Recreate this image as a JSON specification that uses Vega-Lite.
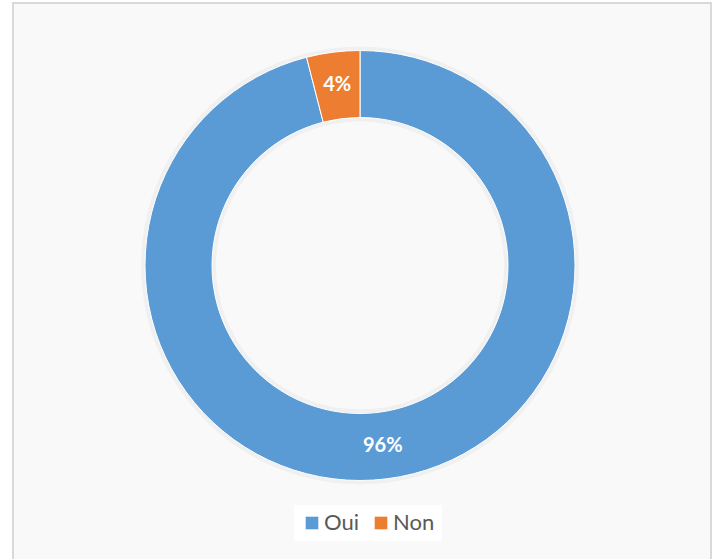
{
  "$schema": "https://vega.github.io/schema/vega-lite/v6.json",
  "width": 698,
  "height": 557,
  "padding": {"left": 13, "top": 3, "right": 9, "bottom": 0},
  "autosize": {"type": "none"},
  "background": "white",
  "config": {
    "view": {"stroke": null},
    "font": "Lato"
  },
  "data": {
    "values": [
      {"reponse": "Oui", "pourcentage": 96, "ordre": 1, "etiquette": "96%"},
      {"reponse": "Non", "pourcentage": 4, "ordre": 2, "etiquette": "4%"}
    ]
  },
  "encoding": {
    "theta": {"field": "pourcentage", "type": "quantitative", "stack": true},
    "order": {"field": "ordre", "type": "quantitative"}
  },
  "layer": [
    {
      "mark": {"type": "rect", "fill": "#f9f9f9", "stroke": "#d9d9d9", "strokeWidth": 2},
      "encoding": {"theta": null, "order": null}
    },
    {
      "mark": {"type": "arc", "outerRadius": 219, "innerRadius": 144, "fill": "#000000", "opacity": 0.035, "xOffset": -2, "yOffset": -16},
      "encoding": {}
    },
    {
      "mark": {"type": "arc", "outerRadius": 215, "innerRadius": 148, "stroke": "white", "strokeWidth": 1, "xOffset": -2, "yOffset": -16},
      "encoding": {
        "color": {
          "field": "reponse",
          "type": "nominal",
          "sort": ["Oui", "Non"],
          "scale": {"domain": ["Oui", "Non"], "range": ["#5B9BD5", "#ED7D31"]},
          "legend": {
            "title": null,
            "orient": "none",
            "direction": "horizontal",
            "legendX": 281,
            "legendY": 502,
            "fillColor": "white",
            "padding": 7,
            "symbolType": "square",
            "symbolSize": 160,
            "symbolStrokeWidth": 0,
            "labelFontSize": 22,
            "labelColor": "#595959",
            "labelFont": "Lato",
            "labelOffset": 1,
            "columnPadding": 11
          }
        }
      }
    },
    {
      "mark": {"type": "text", "radius": 181.5, "fontWeight": "bold", "fontSize": 20, "font": "Lato", "xOffset": -2, "yOffset": -16},
      "encoding": {
        "text": {"field": "etiquette", "type": "nominal"},
        "color": {"value": "white"}
      }
    }
  ]
}
